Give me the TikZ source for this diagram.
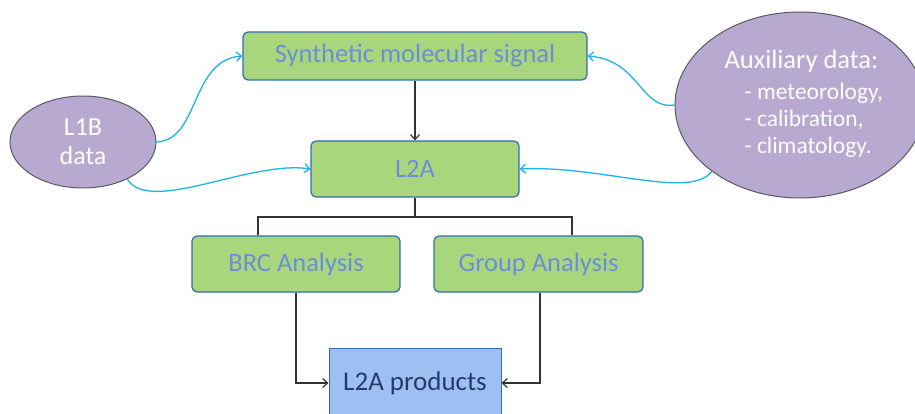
\documentclass[tikz,border=0pt]{standalone}
\usepackage{fontspec}
\setmainfont{Carlito}
\usetikzlibrary{arrows.meta,positioning,shapes.geometric}
\definecolor{boxgreen}{HTML}{A9D67C}
\definecolor{boxedge}{HTML}{2E6DB4}
\definecolor{boxtext}{HTML}{6A8FD8}
\definecolor{prodfill}{HTML}{9DBFF2}
\definecolor{prodtext}{HTML}{243C6A}
\definecolor{lavender}{HTML}{B7A9CF}
\definecolor{lavedge}{HTML}{5A5A66}
\definecolor{feed}{HTML}{1CB4E6}
\definecolor{flow}{HTML}{333333}
\tikzset{
  stagebox/.style={draw=boxedge, line width=1.2pt, fill=boxgreen, rounded corners=5pt,
    text=boxtext, font=\fontsize{26.5}{30}\selectfont, inner sep=0pt},
  prodbox/.style={draw=boxedge, line width=1pt, fill=prodfill, text=prodtext,
    font=\fontsize{27}{30}\selectfont, inner sep=0pt},
  source/.style={ellipse, draw=lavedge, line width=1pt, fill=lavender, text=white, inner sep=0pt},
  flowline/.style={draw=flow, line width=1.2pt},
  flowarrow/.style={flowline, -{Straight Barb[length=5pt,width=9pt]}},
  feedarrow/.style={draw=feed, line width=1.3pt, -{Straight Barb[length=5pt,width=9pt]}},
}
\begin{document}
\begin{tikzpicture}[x=1pt,y=-1pt]
\useasboundingbox (0,0) rectangle (915,414);

% processing stages
\node[stagebox, minimum width=344pt, minimum height=48pt] (synth) at (415,56) {Synthetic molecular signal};
\node[stagebox, minimum width=208pt, minimum height=56pt] (l2a) at (415,169) {L2A};
\node[stagebox, minimum width=208pt, minimum height=56pt] (brc) at (296,264) {BRC Analysis};
\node[stagebox, minimum width=209pt, minimum height=56pt] (group) at (538.5,264) {Group Analysis};
\node[prodbox, minimum width=172pt, minimum height=70pt] (prod) at (415,383) {\raisebox{2pt}{L2A products}};

% input data
\node[source, minimum width=146pt, minimum height=92pt] (l1b) at (83,142) {};
\node[text=white, font=\fontsize{26}{29}\selectfont, align=center] (l1btext) at (83,142) {L1B\\data};
\node[source, minimum width=250pt, minimum height=186pt] (aux) at (800,105) {};
\node[text=white, font=\fontsize{26.5}{28}\selectfont, anchor=west] (auxtitle) at (721,61) {Auxiliary data:};
\node[text=white, font=\fontsize{23.5}{27}\selectfont, align=left, anchor=north west] (auxlist) at (741,80)
  {- meteorology,\\- calibration,\\- climatology.};

% main flow
\draw[flowarrow] (synth.south) -- (l2a.north);
\coordinate (split) at (415,217);
\draw[flowline] (l2a.south) -- (split);
\draw[flowline] (brc.north -| 258,0) |- (split) -| (group.north -| 572,0);
\draw[flowarrow] (brc.south -| 296,0) |- (prod.west);
\draw[flowarrow] (group.south -| 540,0) |- (prod.east);

% auxiliary inputs
\draw[feedarrow] (l1b.east) .. controls (200,140) and (190,60) .. (synth.west);
\draw[feedarrow] (l1b.-40) .. controls (150,215) and (250,160) .. (l2a.west);
\draw[feedarrow] (aux.west) .. controls (640,110) and (640,60) .. (synth.east);
\draw[feedarrow] (aux.-143) .. controls (690,200) and (600,165) .. (l2a.east);
\end{tikzpicture}
\end{document}
